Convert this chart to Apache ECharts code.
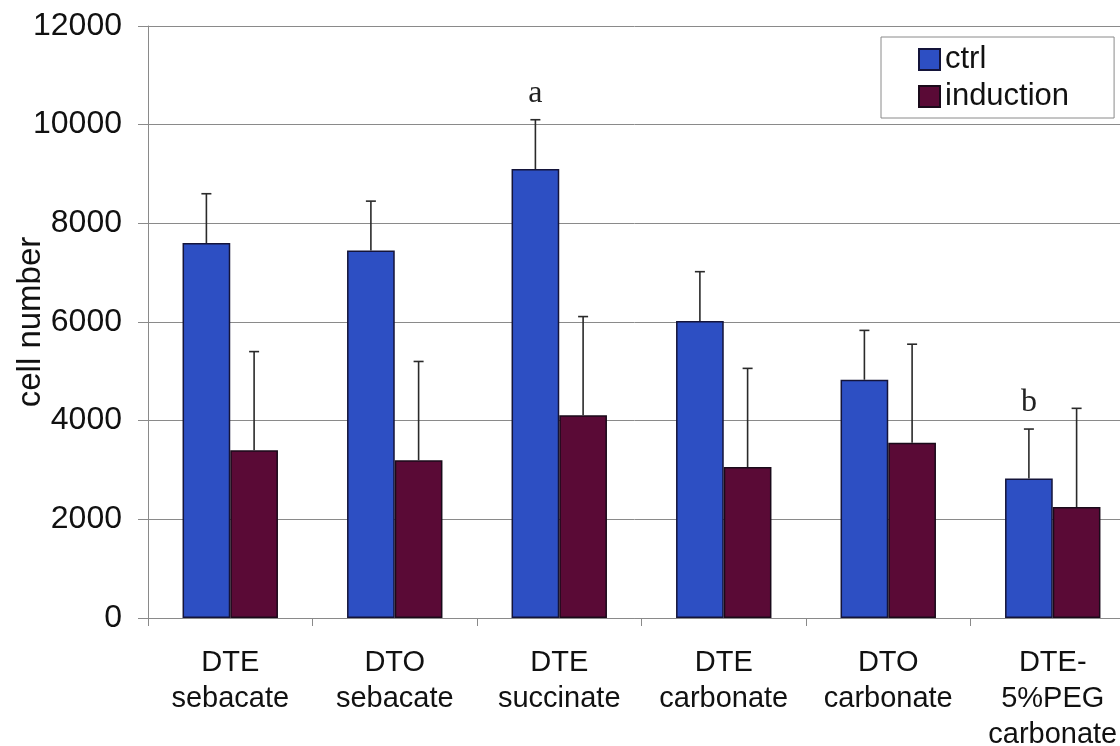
<!DOCTYPE html>
<html>
<head>
<meta charset="utf-8">
<script src="https://cdn.jsdelivr.net/npm/echarts@6/dist/echarts.min.js"></script>
<style>
html,body{margin:0;padding:0;background:#fff;}
#chart{width:1120px;height:746px;}
</style>
</head>
<body>
<div id="chart"></div>
<script>
const categories = ['DTE\nsebacate', 'DTO\nsebacate', 'DTE\nsuccinate', 'DTE\ncarbonate', 'DTO\ncarbonate', 'DTE-\n5%PEG\ncarbonate'];
const ctrl = [7600, 7450, 9100, 6020, 4830, 2830];
const ctrlErr = [1000, 1000, 1000, 1000, 1000, 1000];
const induction = [3400, 3200, 4110, 3060, 3550, 2250];
const inductionErr = [2000, 2000, 2000, 2000, 2000, 2000];
const annotations = ['', '', 'a', '', '', 'b'];
const yTicks = [0, 2000, 4000, 6000, 8000, 10000, 12000];

const CAT_GAP = 0.42;
const FONT = '"Liberation Sans", Arial, sans-serif';

function errItem(side) {
  return function (params, api) {
    const idx = api.value(0), val = api.value(1), err = api.value(2);
    const band = api.size([1, 0])[0];
    const off = side * band * (1 - CAT_GAP) / 4;
    const p0 = api.coord([idx, val]);
    const p1 = api.coord([idx, val + err]);
    const x = p0[0] + off;
    const ls = { stroke: '#2a2a2a', lineWidth: 1.6 };
    const children = [
      { type: 'line', shape: { x1: x, y1: p0[1], x2: x, y2: p1[1] }, style: ls },
      { type: 'line', shape: { x1: x - 5, y1: p1[1], x2: x + 5, y2: p1[1] }, style: ls }
    ];
    const note = side < 0 ? annotations[idx] : '';
    if (note) {
      children.push({
        type: 'text',
        style: {
          text: note, x: x, y: p1[1] - 10, align: 'center', verticalAlign: 'bottom',
          font: '32px "Liberation Serif", "Times New Roman", serif', fill: '#222'
        }
      });
    }
    return { type: 'group', children: children };
  };
}

const chart = echarts.init(document.getElementById('chart'), null, { renderer: 'canvas' });
chart.setOption({
  backgroundColor: '#ffffff',
  animation: false,
  grid: { left: 148, top: 26, width: 987, bottom: 128, containLabel: false, outerBoundsMode: 'none' },
  legend: {
    data: ['ctrl', 'induction'],
    orient: 'vertical',
    left: 881, top: 37,
    backgroundColor: '#ffffff',
    borderColor: '#8a8a8a', borderWidth: 1,
    padding: [4, 45, 3, 37],
    itemWidth: 21, itemHeight: 21, itemGap: 0,
    icon: 'rect',
    textStyle: { fontSize: 31, lineHeight: 37, color: '#111', fontFamily: FONT }
  },
  xAxis: {
    type: 'category',
    data: categories,
    axisLine: { lineStyle: { color: '#8a8a8a', width: 1 } },
    axisTick: { show: true, length: 8, lineStyle: { color: '#8a8a8a' } },
    axisLabel: { interval: 0, fontSize: 29, lineHeight: 36, color: '#111', margin: 27, fontFamily: FONT }
  },
  yAxis: {
    type: 'value',
    min: yTicks[0], max: yTicks[yTicks.length - 1], interval: 2000,
    name: 'cell number',
    nameLocation: 'middle',
    nameGap: 101,
    nameMoveOverlap: false,
    nameTextStyle: { fontSize: 33, color: '#111', fontFamily: FONT },
    axisLine: { show: true, lineStyle: { color: '#8a8a8a', width: 1 } },
    axisTick: { show: true, length: 10, lineStyle: { color: '#8a8a8a' } },
    axisLabel: { fontSize: 32, color: '#111', margin: 26, fontFamily: FONT, formatter: (v) => String(v) },
    splitLine: { show: true, lineStyle: { color: '#8a8a8a', width: 1 } }
  },
  series: [
    {
      name: 'ctrl', type: 'bar', data: ctrl,
      barGap: '0%', barCategoryGap: (CAT_GAP * 100) + '%',
      itemStyle: { color: '#2d4fc3', borderColor: '#14143a', borderWidth: 1.5 }
    },
    {
      name: 'induction', type: 'bar', data: induction,
      barGap: '0%', barCategoryGap: (CAT_GAP * 100) + '%',
      itemStyle: { color: '#5a0a36', borderColor: '#1a0a1a', borderWidth: 1.5 }
    },
    {
      name: 'ctrlErr', type: 'custom', renderItem: errItem(-1), z: 5,
      encode: { x: 0, y: 1 },
      data: ctrl.map((v, i) => [i, v, ctrlErr[i]])
    },
    {
      name: 'inductionErr', type: 'custom', renderItem: errItem(1), z: 5,
      encode: { x: 0, y: 1 },
      data: induction.map((v, i) => [i, v, inductionErr[i]])
    }
  ]
});
</script>
</body>
</html>
